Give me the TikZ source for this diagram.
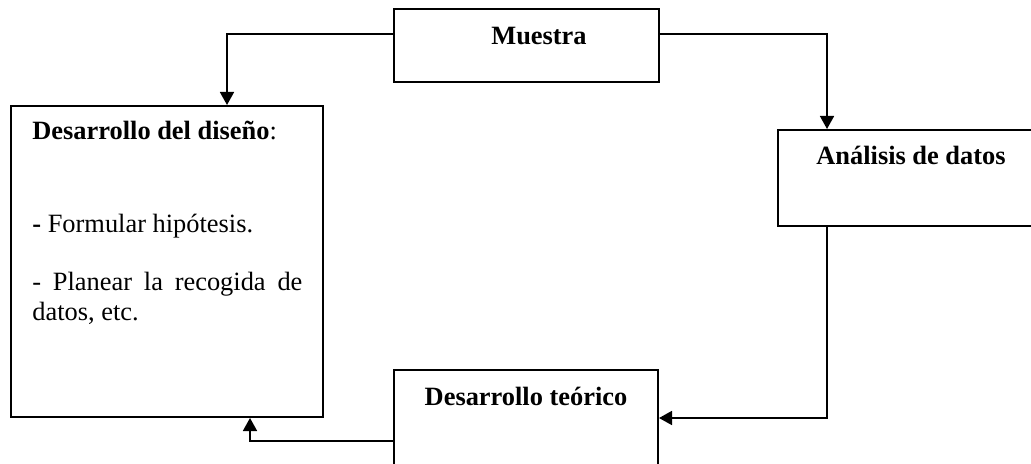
\documentclass[tikz,border=0pt]{standalone}
\usepackage{fontspec}
\setmainfont{Liberation Serif}
\usepackage{tikz}
\usetikzlibrary{arrows.meta}
\tikzstyle{box}=[draw, line width=1pt, rectangle, inner sep=0pt]
\tikzstyle{txt}=[inner sep=0pt, font=\fontsize{13.2}{15}\selectfont]
\tikzstyle{conn}=[line width=0.8pt, -{Triangle[length=6.5pt,width=7pt]}]

\begin{document}
\begin{tikzpicture}[x=0.5pt, y=-0.5pt]%
	\useasboundingbox (0,0) rectangle (1031,464);
	\clip (0,0) rectangle (1031,464);

	\begin{scope}
		\draw  (526.5,45.5)  node (Box_Muestra)  [box, minimum width=132.5pt, minimum height=36.5pt] {};
		\draw  (167,261.5)   node (Box_Diseno)   [box, minimum width=156pt, minimum height=155.5pt] {};
		\draw  (911,178)     node (Box_Analisis) [box, minimum width=133pt, minimum height=48pt] {};
		\draw  (526,430)     node (Box_Teorico)  [box, minimum width=132pt, minimum height=60pt] {};

		\draw  (539,45)   node (Text_Muestra)  [txt, anchor=base] {\textbf{Muestra}};
		\draw  (911,165)  node (Text_Analisis) [txt, anchor=base] {\textbf{Análisis de datos}};
		\draw  (526,405)  node (Text_Teorico)  [txt, anchor=base] {\textbf{Desarrollo teórico}};

		\draw  (32,140)  node (Text_Diseno)  [txt, anchor=base west] {\textbf{Desarrollo del diseño}:};
		\draw  (32,233)  node (Text_Item_1)  [txt, anchor=base west] {\textbf{-} Formular hipótesis.};
		\draw  (32,291)  node (Text_Item_2a) [txt, anchor=base west] {\makebox[135pt][s]{- Planear la recogida de}};
		\draw  (32,320)  node (Text_Item_2b) [txt, anchor=base west] {datos, etc.};

		\coordinate (Bend_MD) at (227,34);
		\coordinate (Bend_MA) at (827,34);
		\coordinate (Bend_AT) at (827,418);
		\coordinate (Bend_TD) at (250,441);

		\draw [conn] (Box_Muestra.west |- Bend_MD) -| (Box_Diseno.north -| Bend_MD);
		\draw [conn] (Box_Muestra.east |- Bend_MA) -| (Box_Analisis.north -| Bend_MA);
		\draw [conn] (Box_Analisis.south -| Bend_AT) |- (Box_Teorico.east |- Bend_AT);
		\draw [conn] (Box_Teorico.west |- Bend_TD) -| (Box_Diseno.south -| Bend_TD);
	\end{scope}

\end{tikzpicture}
\end{document}
